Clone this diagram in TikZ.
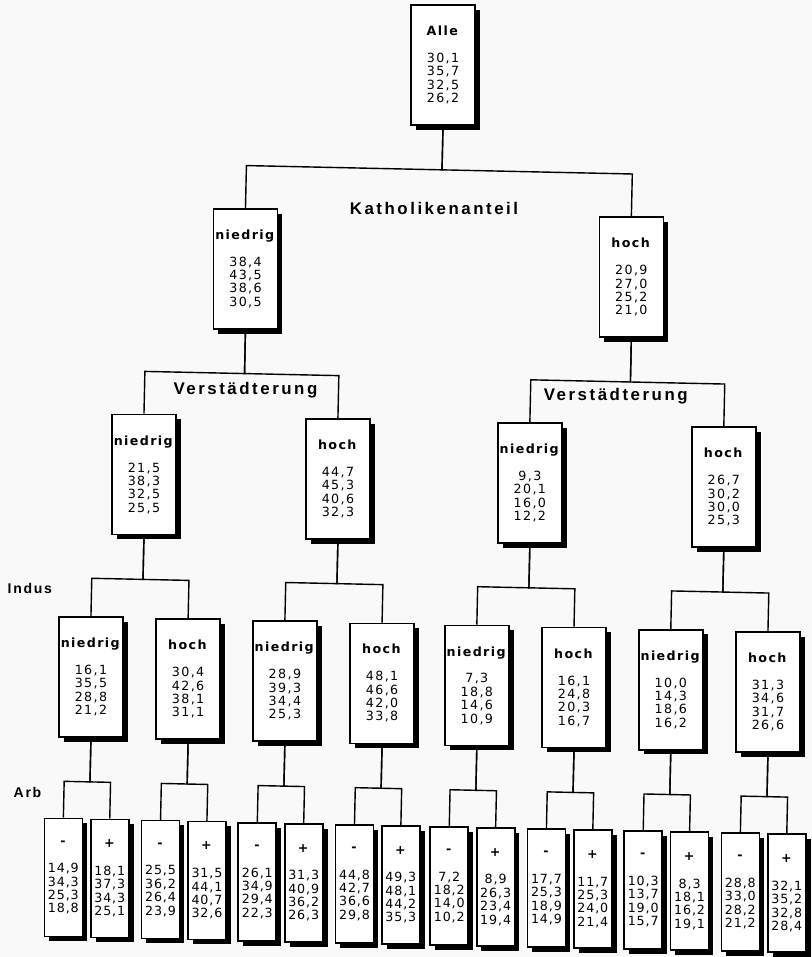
\documentclass[tikz,border=0pt]{standalone}
\usepackage{fontspec}
\setmainfont{Liberation Sans}
\newfontfamily\boxfont[LetterSpace=11]{DejaVu Sans}
\newfontfamily\leaffont[LetterSpace=7]{DejaVu Sans}
\newfontfamily\lblfont[LetterSpace=15]{Liberation Sans}
\newfontfamily\sidefont[LetterSpace=12]{Liberation Sans}
\usetikzlibrary{positioning,shadows,trees}
\definecolor{paper}{gray}{0.975}
\tikzset{
  ktree/.style={line width=1pt,
    edge from parent path={(\tikzparentnode.south) -- ++(0,-11mm) -| (\tikzchildnode.north)}},
  level 1/.style={level distance=52mm, sibling distance=96.5mm},
  level 2/.style={level distance=52mm, sibling distance=48.5mm},
  level 3/.style={level distance=50.9mm, sibling distance=24.3mm},
  level 4/.style={level distance=50.25mm, sibling distance=11.6mm},
  box/.style ={draw, line width=1.2pt, fill=white, minimum width=16mm, minimum height=30mm,
               inner sep=1pt, align=center, font={\boxfont\fontsize{9}{9.5}\selectfont},
               drop shadow={shadow xshift=1.2mm, shadow yshift=-1.2mm, fill=black, opacity=1}},
  leaf/.style={box, minimum width=9.5mm, minimum height=29.5mm, font={\leaffont\fontsize{9}{9.5}\selectfont}},
  lbl/.style ={font={\lblfont\bfseries\fontsize{12}{14}\selectfont}},
  side/.style={inner sep=0pt, font={\sidefont\bfseries\fontsize{10}{12}\selectfont}}
}

\begin{document}
\begin{tikzpicture}[ktree]
\path[use as bounding box, fill=paper] (0,0) rectangle (203mm,-239.25mm);
% the printed tree sits a little askew on the page
\begin{scope}[rotate around={-1.25:(110.75mm,-16.25mm)}]
\node[box] (alle) at (110.75mm,-16.25mm) {\textbf{Alle}\\[3.4mm]30,1\\35,7\\32,5\\26,2}
  child { node[box] (kn) {\textbf{niedrig}\\[3.4mm]38,4\\43,5\\38,6\\30,5}
    child { node[box] (kn-vn) {\textbf{niedrig}\\[3.4mm]21,5\\38,3\\32,5\\25,5}
      child { node[box] (kn-vn-in) {\textbf{niedrig}\\[3.4mm]16,1\\35,5\\28,8\\21,2}
        child { node[leaf] (kn-vn-in-am) {\textbf{-}\\[3.6mm]14,9\\34,3\\25,3\\18,8} }
        child { node[leaf] (kn-vn-in-ap) {\textbf{+}\\[3.6mm]18,1\\37,3\\34,3\\25,1} }
      }
      child { node[box] (kn-vn-ih) {\textbf{hoch}\\[3.4mm]30,4\\42,6\\38,1\\31,1}
        child { node[leaf] (kn-vn-ih-am) {\textbf{-}\\[3.6mm]25,5\\36,2\\26,4\\23,9} }
        child { node[leaf] (kn-vn-ih-ap) {\textbf{+}\\[3.6mm]31,5\\44,1\\40,7\\32,6} }
      }
    }
    child { node[box] (kn-vh) {\textbf{hoch}\\[3.4mm]44,7\\45,3\\40,6\\32,3}
      child { node[box] (kn-vh-in) {\textbf{niedrig}\\[3.4mm]28,9\\39,3\\34,4\\25,3}
        child { node[leaf] (kn-vh-in-am) {\textbf{-}\\[3.6mm]26,1\\34,9\\29,4\\22,3} }
        child { node[leaf] (kn-vh-in-ap) {\textbf{+}\\[3.6mm]31,3\\40,9\\36,2\\26,3} }
      }
      child { node[box] (kn-vh-ih) {\textbf{hoch}\\[3.4mm]48,1\\46,6\\42,0\\33,8}
        child { node[leaf] (kn-vh-ih-am) {\textbf{-}\\[3.6mm]44,8\\42,7\\36,6\\29,8} }
        child { node[leaf] (kn-vh-ih-ap) {\textbf{+}\\[3.6mm]49,3\\48,1\\44,2\\35,3} }
      }
    }
  }
  child { node[box] (kh) {\textbf{hoch}\\[3.4mm]20,9\\27,0\\25,2\\21,0}
    child { node[box] (kh-vn) {\textbf{niedrig}\\[3.4mm]9,3\\20,1\\16,0\\12,2}
      child { node[box] (kh-vn-in) {\textbf{niedrig}\\[3.4mm]7,3\\18,8\\14,6\\10,9}
        child { node[leaf] (kh-vn-in-am) {\textbf{-}\\[3.6mm]7,2\\18,2\\14,0\\10,2} }
        child { node[leaf] (kh-vn-in-ap) {\textbf{+}\\[3.6mm]8,9\\26,3\\23,4\\19,4} }
      }
      child { node[box] (kh-vn-ih) {\textbf{hoch}\\[3.4mm]16,1\\24,8\\20,3\\16,7}
        child { node[leaf] (kh-vn-ih-am) {\textbf{-}\\[3.6mm]17,7\\25,3\\18,9\\14,9} }
        child { node[leaf] (kh-vn-ih-ap) {\textbf{+}\\[3.6mm]11,7\\25,3\\24,0\\21,4} }
      }
    }
    child { node[box] (kh-vh) {\textbf{hoch}\\[3.4mm]26,7\\30,2\\30,0\\25,3}
      child { node[box] (kh-vh-in) {\textbf{niedrig}\\[3.4mm]10,0\\14,3\\18,6\\16,2}
        child { node[leaf] (kh-vh-in-am) {\textbf{-}\\[3.6mm]10,3\\13,7\\19,0\\15,7} }
        child { node[leaf] (kh-vh-in-ap) {\textbf{+}\\[3.6mm]8,3\\18,1\\16,2\\19,1} }
      }
      child { node[box] (kh-vh-ih) {\textbf{hoch}\\[3.4mm]31,3\\34,6\\31,7\\26,6}
        child { node[leaf] (kh-vh-ih-am) {\textbf{-}\\[3.6mm]28,8\\33,0\\28,2\\21,2} }
        child { node[leaf] (kh-vh-ih-ap) {\textbf{+}\\[3.6mm]32,1\\35,2\\32,8\\28,4} }
      }
    }
  };
\end{scope}
% factor labels
\node[lbl, below=17.8mm of alle, xshift=-2.25mm] (kath) {Katholikenanteil};
\node[lbl, below=11.9mm of kn] (stadt-n) {Verstädterung};
\node[lbl, below=11.3mm of kh, xshift=-3.9mm] (stadt-h) {Verstädterung};
\node[side, anchor=west] (indus) at (1.75mm,-147mm) {Indus};
\node[side, anchor=west] (arb) at (3.25mm,-198mm) {Arb};
\end{tikzpicture}
\end{document}
